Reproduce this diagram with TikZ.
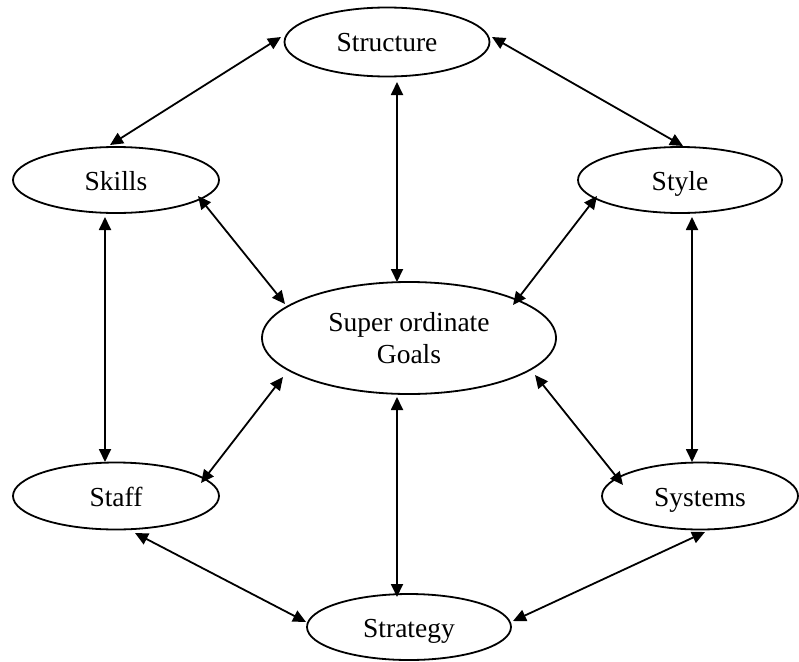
\documentclass[tikz,border=0pt]{standalone}
\usepackage{fontspec}
\setmainfont{Liberation Serif}
\usetikzlibrary{shapes.geometric,arrows.meta,calc}
\begin{document}
\begin{tikzpicture}[x=1pt,y=-1pt,
  ell/.style={draw, ellipse, line width=1.8pt, inner sep=0pt, align=center,
    font=\fontsize{27.5}{32}\selectfont},
  oneline/.style={ell, text height=26pt, text depth=6pt},
  dbl/.style={line width=1.8pt,
    {Triangle[length=13pt,width=12pt]}-{Triangle[length=13pt,width=12pt]}}]
\useasboundingbox (0,0) rectangle (799,661);
\node[oneline, minimum width=205pt, minimum height=69pt] (structure) at (387,42) {Structure};
\node[oneline, minimum width=206pt, minimum height=66pt] (skills) at (116,180) {Skills};
\node[oneline, minimum width=204pt, minimum height=66pt] (style) at (680,180) {Style};
\node[ell, minimum width=294pt, minimum height=112pt] (goals) at (409,338) {Super ordinate\\Goals};
\node[oneline, minimum width=206pt, minimum height=67pt] (staff) at (116,496) {Staff};
\node[oneline, minimum width=196pt, minimum height=67pt] (systems) at (700,496) {Systems};
\node[oneline, minimum width=204pt, minimum height=66pt] (strategy) at (409,627) {Strategy};

\draw[dbl] ($(structure)+(-106,-5)$) -- ($(skills)+(-6,-35)$);
\draw[dbl] ($(structure)+(105,-5)$) -- ($(style)+(3,-34)$);
\draw[dbl] ($(structure)+(10,40)$) -- ($(goals)+(-12,-56)$);
\draw[dbl] ($(skills)+(82,16)$) -- ($(goals)+(-124,-34)$);
\draw[dbl] ($(style)+(-83,16)$) -- ($(goals)+(104,-33)$);
\draw[dbl] ($(skills)+(-11,37)$) -- ($(staff)+(-11,-34)$);
\draw[dbl] ($(style)+(12,37)$) -- ($(systems)+(-8,-34)$);
\draw[dbl] ($(goals)+(-126,39)$) -- ($(staff)+(85,-13)$);
\draw[dbl] ($(goals)+(126,37)$) -- ($(systems)+(-77,-11)$);
\draw[dbl] ($(goals)+(-12,59)$) -- ($(strategy)+(-12,-30)$);
\draw[dbl] ($(staff)+(19,37)$) -- ($(strategy)+(-103,-5)$);
\draw[dbl] ($(systems)+(5,36)$) -- ($(strategy)+(104,-6)$);
\end{tikzpicture}
\end{document}
